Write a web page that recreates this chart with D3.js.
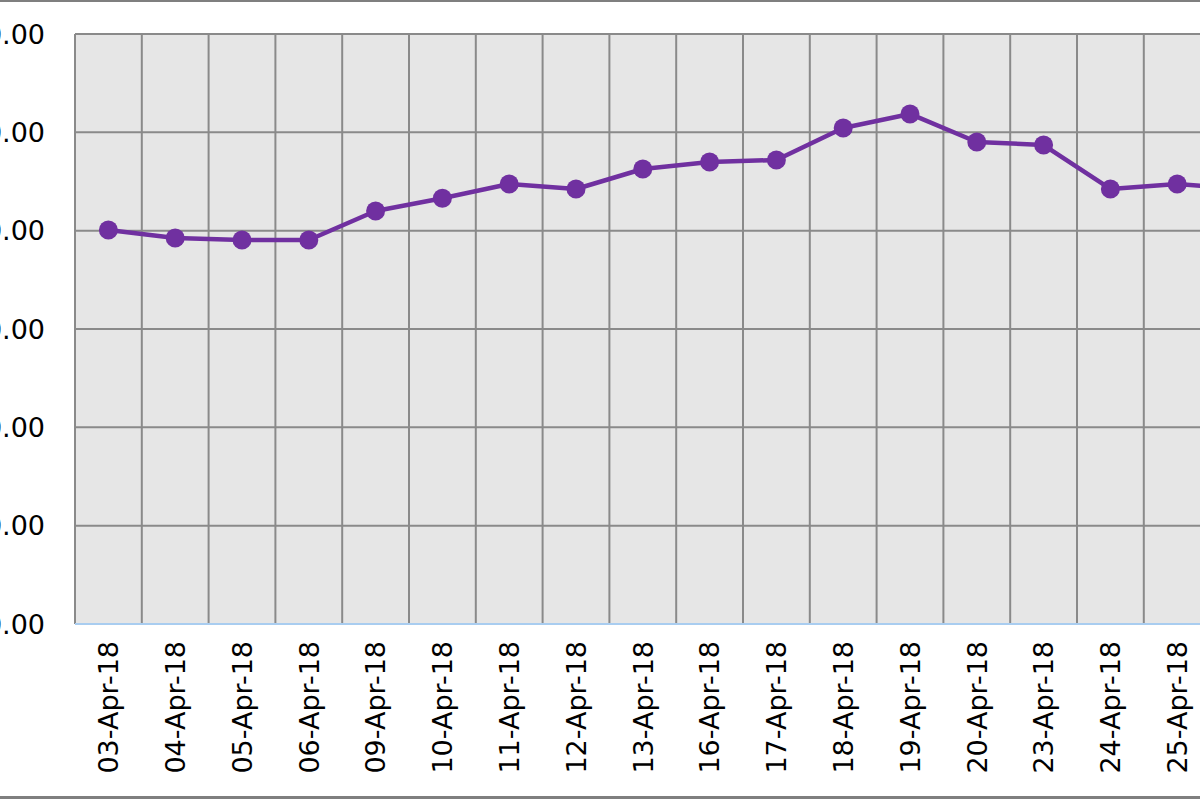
<!DOCTYPE html>
<html>
<head>
<meta charset="utf-8">
<script src="https://cdn.jsdelivr.net/npm/d3@7"></script>
<style>
  html, body { margin: 0; padding: 0; background: #fff; overflow: hidden; }
  svg { display: block; }
</style>
</head>
<body>
<svg id="chart" width="1200" height="800"></svg>
<script>
// dates shown on the category axis (chart is cropped on the right)
const dates = [
  "03-Apr-18", "04-Apr-18", "05-Apr-18", "06-Apr-18", "09-Apr-18",
  "10-Apr-18", "11-Apr-18", "12-Apr-18", "13-Apr-18", "16-Apr-18",
  "17-Apr-18", "18-Apr-18", "19-Apr-18", "20-Apr-18", "23-Apr-18",
  "24-Apr-18", "25-Apr-18", "26-Apr-18"
];
const prices = [
  40.07, 39.26, 39.05, 39.05, 42.0,
  43.3, 44.75, 44.24, 46.27, 46.98,
  47.19, 50.44, 51.87, 49.02, 48.71,
  44.24, 44.75, 44.24
];
const yTicks = [0, 10, 20, 30, 40, 50, 60];

const FONT = "'DejaVu Sans', Verdana, sans-serif";
const svg = d3.select("#chart");

const plotLeft = 75;
const plotTop = 34;
const plotBottom = 624;
const band = 66.8;
const plotRight = plotLeft + band * dates.length;

const x = d3.scaleBand()
  .domain(dates)
  .range([plotLeft, plotRight]);

const y = d3.scaleLinear()
  .domain([0, 60])
  .range([plotBottom, plotTop]);

// outer chart border (top/bottom visible in crop)
svg.append("rect")
  .attr("x", -10).attr("y", 0.5)
  .attr("width", 1220).attr("height", 797)
  .attr("fill", "none")
  .attr("stroke", "#7f7f7f")
  .attr("stroke-width", 3);

// plot background
svg.append("rect")
  .attr("x", plotLeft).attr("y", plotTop)
  .attr("width", plotRight - plotLeft).attr("height", plotBottom - plotTop)
  .attr("fill", "#e6e6e6");

// horizontal gridlines
svg.append("g")
  .selectAll("line")
  .data(yTicks.filter(d => d > 0))
  .join("line")
  .attr("x1", plotLeft).attr("x2", plotRight)
  .attr("y1", d => y(d)).attr("y2", d => y(d))
  .attr("stroke", "#8a8a8a")
  .attr("stroke-width", 2);

// vertical gridlines at category boundaries
svg.append("g")
  .selectAll("line")
  .data(d3.range(dates.length + 1))
  .join("line")
  .attr("x1", i => plotLeft + i * x.step())
  .attr("x2", i => plotLeft + i * x.step())
  .attr("y1", plotTop).attr("y2", plotBottom)
  .attr("stroke", "#8a8a8a")
  .attr("stroke-width", 2);

// category axis line
svg.append("line")
  .attr("x1", plotLeft).attr("x2", plotRight)
  .attr("y1", plotBottom).attr("y2", plotBottom)
  .attr("stroke", "#a9cdf0")
  .attr("stroke-width", 2);

// value axis labels
svg.append("g")
  .selectAll("text")
  .data(yTicks)
  .join("text")
  .attr("x", 45)
  .attr("y", d => y(d))
  .attr("dy", "0.36em")
  .attr("text-anchor", "end")
  .attr("font-family", FONT)
  .attr("font-size", 27)
  .attr("fill", "#000")
  .text(d => d3.format(".2f")(d));

// category labels, rotated
svg.append("g")
  .selectAll("text")
  .data(dates)
  .join("text")
  .attr("transform", d => `translate(${x(d) + x.bandwidth() / 2},641) rotate(-90)`)
  .attr("dy", "0.36em")
  .attr("text-anchor", "end")
  .attr("font-family", FONT)
  .attr("font-size", 27)
  .attr("fill", "#000")
  .text(d => d);

// series line
const line = d3.line()
  .x((d, i) => x(dates[i]) + x.bandwidth() / 2)
  .y(d => y(d));

svg.append("path")
  .datum(prices)
  .attr("d", line)
  .attr("fill", "none")
  .attr("stroke", "#7030a0")
  .attr("stroke-width", 4.5)
  .attr("stroke-linejoin", "round");

svg.append("g")
  .selectAll("circle")
  .data(prices)
  .join("circle")
  .attr("cx", (d, i) => x(dates[i]) + x.bandwidth() / 2)
  .attr("cy", d => y(d))
  .attr("r", 9.5)
  .attr("fill", "#7030a0");
</script>
</body>
</html>
